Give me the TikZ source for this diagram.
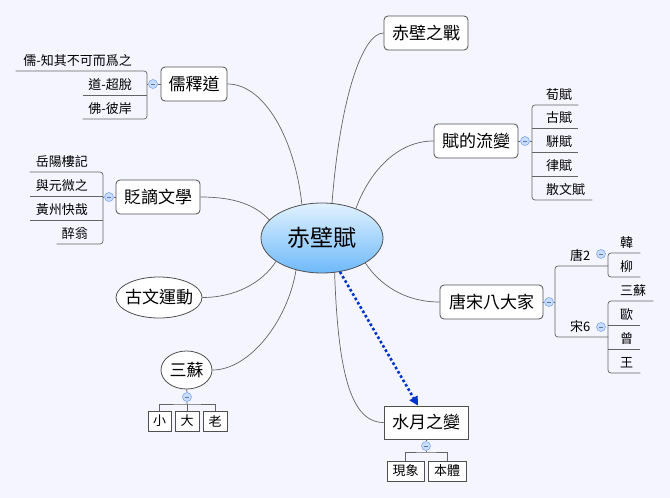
\documentclass[tikz,border=0pt]{standalone}
\usepackage{fontspec}
\setmainfont{Noto Sans CJK TC}
\usetikzlibrary{shapes.geometric,arrows.meta,calc}
\definecolor{bg}{RGB}{245,245,255}
\definecolor{bord}{RGB}{80,80,80}
\definecolor{conncol}{RGB}{100,100,100}
\definecolor{collfill}{RGB}{200,220,255}
\definecolor{colldraw}{RGB}{130,170,235}
\definecolor{arrowblue}{RGB}{0,51,204}
\definecolor{ctop}{RGB}{225,242,255}
\definecolor{cbot}{RGB}{110,185,250}
\newcommand{\rpad}{\rule{15pt}{0pt}}
\tikzset{
  mainbox/.style={draw=bord, fill=white, rounded corners=4pt, minimum height=34pt, inner sep=2pt, line width=0.8pt, font=\fontsize{17}{20}\selectfont},
  ellbox/.style={ellipse, draw=bord, fill=white, inner sep=0pt, line width=0.8pt, font=\fontsize{17}{20}\selectfont},
  subR/.style={anchor=south west, inner xsep=0pt, inner ysep=0pt, text width=#1, align=left, text height=10pt, text depth=5.5pt, font=\fontsize{13}{15}\selectfont},
  subL/.style={anchor=south east, inner xsep=0pt, inner ysep=0pt, text width=#1, align=right, text height=10pt, text depth=5.5pt, font=\fontsize{13}{15}\selectfont},
  leaf/.style={draw=bord, fill=white, minimum height=20pt, inner sep=1pt, line width=0.7pt, font=\fontsize{13}{15}\selectfont},
  coll/.style={circle, draw=colldraw, fill=collfill, minimum size=9pt, inner sep=0pt, line width=0.6pt,
    path picture={\draw[colldraw!70!black, line width=0.6pt] ([xshift=-2.2pt]path picture bounding box.center) -- ([xshift=2.2pt]path picture bounding box.center);}},
  conn/.style={draw=conncol, line width=0.7pt},
}
\begin{document}
\begin{tikzpicture}[x=1pt,y=-1pt]
\path[use as bounding box, fill=bg] (0,0) rectangle (670,498);

% central topic
\node[ellipse, draw=bord, line width=0.8pt, top color=ctop, bottom color=cbot, minimum width=122pt, minimum height=70pt, inner sep=0pt, font=\fontsize{23}{26}\selectfont] (c) at (322,238) {\makebox[0pt]{赤壁賦}};

% main topics
\node[mainbox, minimum width=84pt] (zz) at (426,33) {赤壁之戰};
\node[mainbox, minimum width=66pt] (rsd) at (194,84) {儒釋道};
\node[mainbox, minimum width=84pt] (fu) at (476,141) {賦的流變};
\node[mainbox, minimum width=84pt] (bz) at (158,197) {貶謫文學};
\node[ellbox, minimum width=86pt, minimum height=41pt] (gw) at (159,297.5) {\makebox[0pt]{古文運動}};
\node[mainbox, minimum width=103pt] (ts) at (491.5,302) {唐宋八大家};
\node[ellbox, minimum width=51pt, minimum height=38pt] (ss) at (186.5,370) {\makebox[0pt]{三蘇}};
\node[mainbox, rounded corners=0pt, minimum width=84pt, minimum height=33pt] (sy) at (426,422.5) {水月之變};

% connectors from centre
\draw[conn] (c.74) .. controls (340,100) and (362,33) .. (zz.west);
\draw[conn] (c.121) .. controls (295,140) and (265,84) .. (rsd.east);
\draw[conn] (c.41) .. controls (368,175) and (395,141) .. (fu.west);
\draw[conn] (c.161) .. controls (255,205) and (235,197) .. (bz.east);
\draw[conn] (c.207) .. controls (262,283) and (235,297.5) .. (gw.east);
\draw[conn] (c.231) .. controls (288,320) and (250,370) .. (ss.east);
\draw[conn] (c.290) .. controls (338,370) and (350,422.5) .. (sy.west);
\draw[conn] (c.330) .. controls (380,285) and (405,302) .. (ts.west);

% dotted relation arrow
\draw[arrowblue, line width=2.6pt, dash pattern=on 2.6pt off 2.4pt, -{Triangle[length=9pt,width=9pt]}] (c.298) -- ([xshift=-8pt]sy.north);

% 儒釋道 subtopics
\node[subL=131pt] (r1) at (147,71) {儒-知其不可而爲之\rpad};
\node[subL=64pt] (r2) at (147,95) {道-超脫\rpad};
\node[subL=64pt] (r3) at (147,119) {佛-彼岸\rpad};
\node[coll] (kr) at (153,84) {};
\draw[conn, rounded corners=3pt] (r1.south west) -- (r1.south east) -- (r3.south east) -- (r3.south west);
\draw[conn] (r2.south west) -- (r2.south east);
\draw[conn] (rsd.west) -- (kr.east) (kr.west) -- (kr.west -| r1.south east);

% 貶謫文學 subtopics
\node[subL=73pt] (b1) at (103,172) {岳陽樓記\rpad};
\node[subL=73pt] (b2) at (103,196) {與元微之\rpad};
\node[subL=73pt] (b3) at (103,220) {黃州快哉\rpad};
\node[subL=46pt] (b4) at (103,244) {醉翁\rpad};
\node[coll] (kb) at (109,197) {};
\draw[conn, rounded corners=3pt] (b1.south west) -- (b1.south east) -- (b4.south east) -- (b4.south west);
\draw[conn] (b2.south west) -- (b2.south east) (b3.south west) -- (b3.south east);
\draw[conn] (bz.west) -- (kb.east) (kb.west) -- (kb.west -| b1.south east);

% 賦的流變 subtopics
\node[subR=46pt] (f1) at (532,105) {\hspace*{14pt}荀賦};
\node[subR=46pt] (f2) at (532,128) {\hspace*{14pt}古賦};
\node[subR=46pt] (f3) at (532,152) {\hspace*{14pt}駢賦};
\node[subR=46pt] (f4) at (532,176) {\hspace*{14pt}律賦};
\node[subR=60pt] (f5) at (532,200) {\hspace*{14pt}散文賦};
\node[coll] (kf) at (525,141) {};
\draw[conn, rounded corners=3pt] (f1.south east) -- (f1.south west) -- (f5.south west) -- (f5.south east);
\draw[conn] (f2.south west) -- (f2.south east) (f3.south west) -- (f3.south east) (f4.south west) -- (f4.south east);
\draw[conn] (fu.east) -- (kf.west) (kf.east) -- (kf.east -| f1.south west);

% 唐宋八大家 subtopics
\node[subR=53pt] (t1) at (555,266) {\hspace*{15pt}唐2};
\node[subR=53pt] (t2) at (555,337) {\hspace*{15pt}宋6};
\node[coll] (kt) at (549,302) {};
\node[coll] (kt1) at (601,254) {};
\node[coll] (kt2) at (601,327) {};
\draw[conn, rounded corners=3pt] (t1.south east) -- (t1.south west) -- (t2.south west) -- (t2.south east);
\draw[conn] (ts.east) -- (kt.west) (kt.east) -- (kt.east -| t1.south west);

\node[subR=32pt] (h1) at (608,253) {\hspace*{12pt}韓};
\node[subR=32pt] (h2) at (608,277) {\hspace*{12pt}柳};
\draw[conn, rounded corners=3pt] (h1.south east) -- (h1.south west) -- (h2.south west) -- (h2.south east);

\node[subR=45pt] (s1) at (608,301) {\hspace*{12pt}三蘇};
\node[subR=32pt] (s2) at (608,325) {\hspace*{12pt}歐};
\node[subR=32pt] (s3) at (608,349) {\hspace*{12pt}曾};
\node[subR=32pt] (s4) at (608,373) {\hspace*{12pt}王};
\draw[conn, rounded corners=3pt] (s1.south east) -- (s1.south west) -- (s4.south west) -- (s4.south east);
\draw[conn] (s2.south west) -- (s2.south east) (s3.south west) -- (s3.south east);

% 三蘇 children
\node[coll] (ks) at (187,397) {};
\coordinate (js) at (187,404);
\node[leaf, minimum width=23pt] (x1) at (159.5,421) {小};
\node[leaf, minimum width=24pt] (x2) at (187,421) {大};
\node[leaf, minimum width=24pt] (x3) at (215,421) {老};
\draw[conn] (ss.south) -- (ks.north) (ks.south) -- (js);
\draw[conn] (x1.north) |- (js) -| (x3.north);
\draw[conn] (x2.north) -- (js);

% 水月之變 children
\node[coll] (ky) at (426,446) {};
\coordinate (jy) at (426,452);
\node[leaf, minimum width=37pt] (y1) at (405.5,471) {現象};
\node[leaf, minimum width=38pt] (y2) at (447,471) {本體};
\draw[conn] (sy.south) -- (ky.north) (ky.south) -- (jy);
\draw[conn] (y1.north) |- (jy) -| (y2.north);
\end{tikzpicture}
\end{document}
